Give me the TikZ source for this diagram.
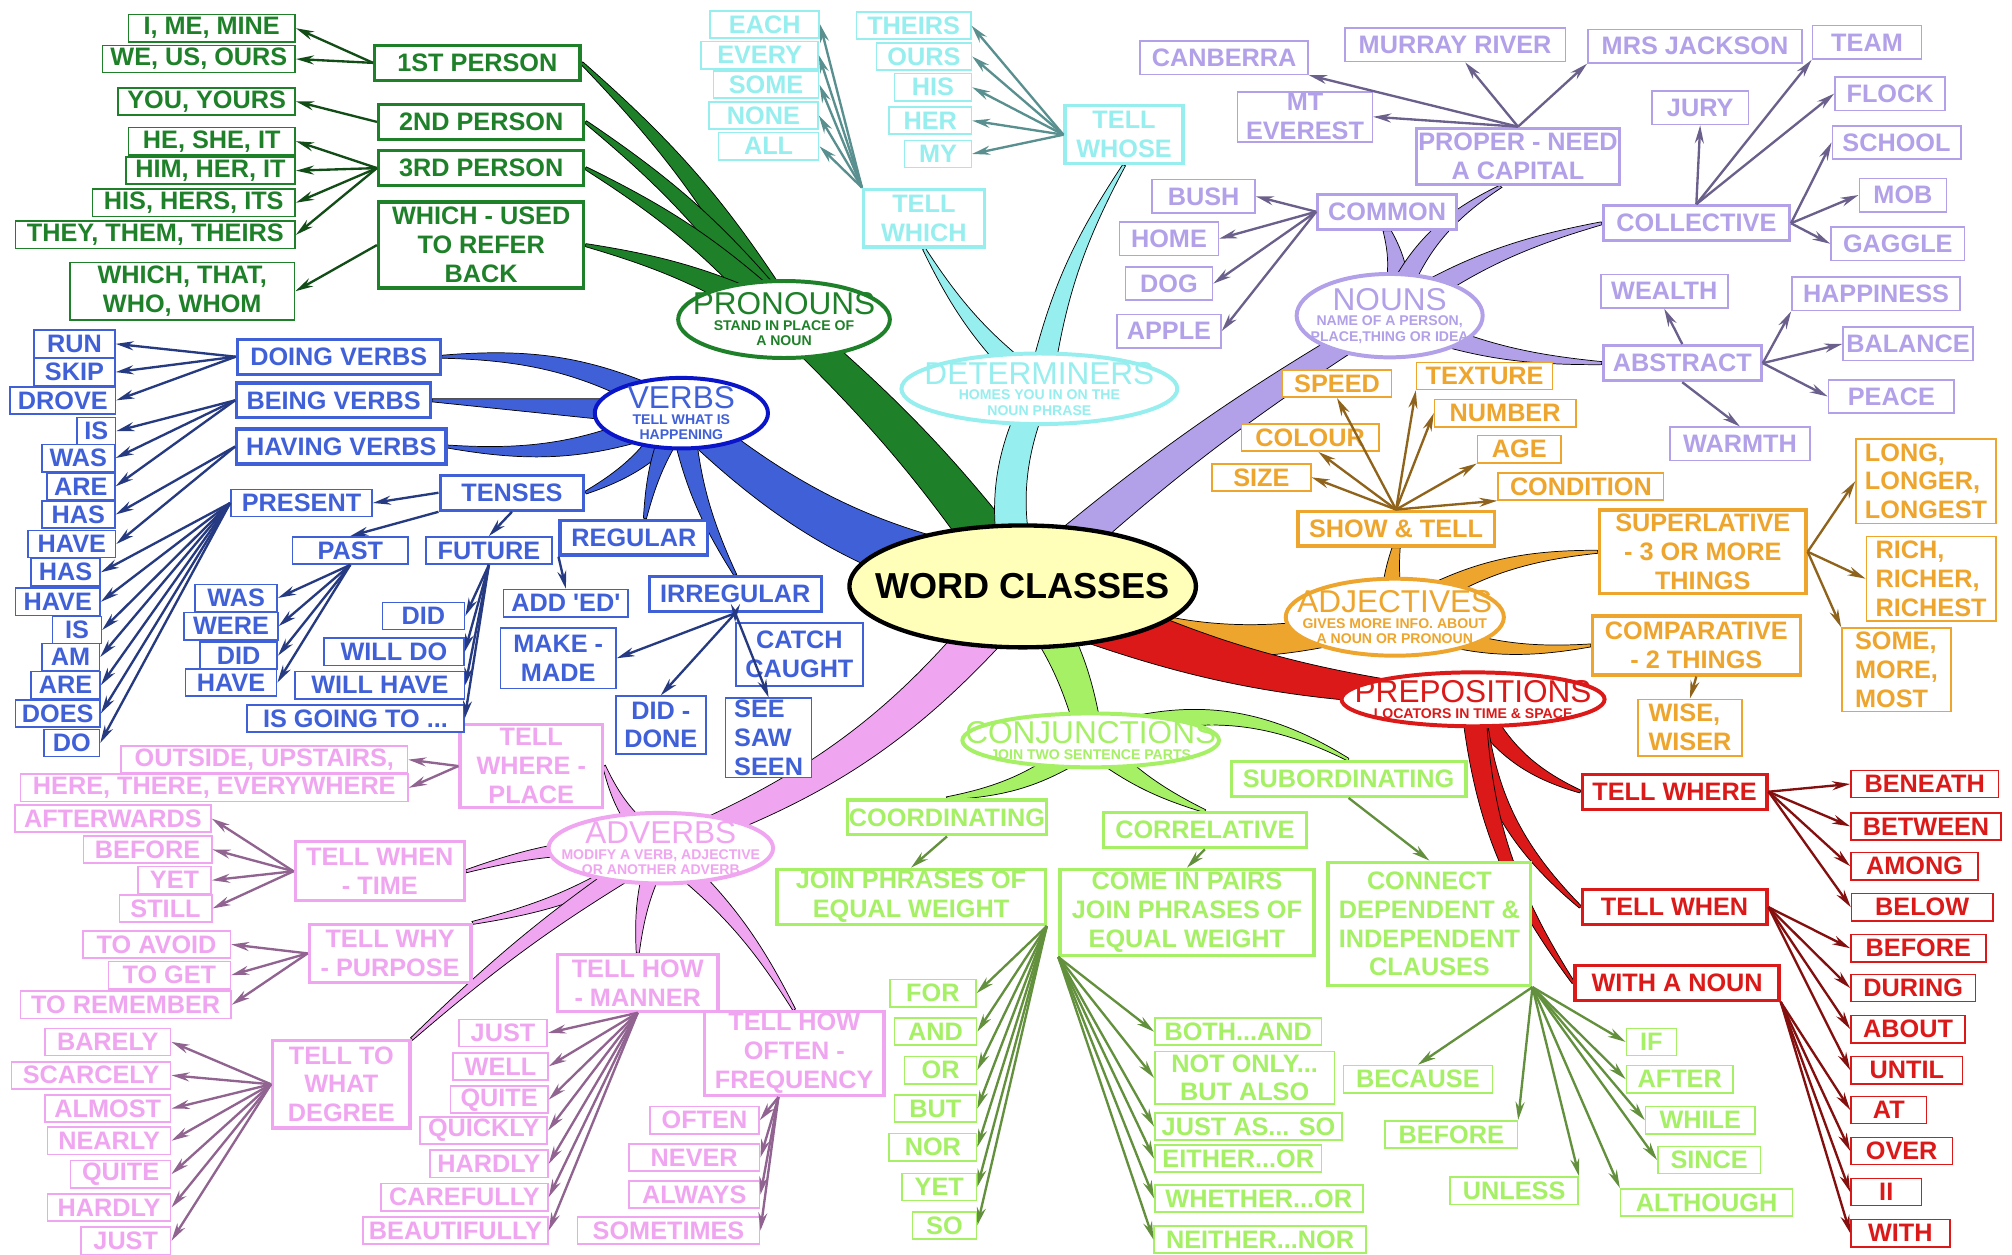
\documentclass[tikz,border=0pt]{standalone}
\usepackage{fontspec}
\setmainfont{Liberation Sans}
\usetikzlibrary{shapes.geometric,arrows.meta,calc,backgrounds}

\definecolor{pgr}{RGB}{30,128,40}
\definecolor{dcy}{RGB}{150,238,238}
\definecolor{nlv}{RGB}{178,160,232}
\definecolor{aor}{RGB}{238,165,45}
\definecolor{prd}{RGB}{220,25,25}
\definecolor{cgr}{RGB}{165,240,100}
\definecolor{avp}{RGB}{240,165,240}
\definecolor{vbl}{RGB}{64,96,216}
\definecolor{vdk}{RGB}{10,20,200}
\definecolor{hubfill}{RGB}{255,255,185}

% tapered limb: colour, from, to, half width at start, half width at end, bend
\newcommand{\twig}[6]{%
  \filldraw[fill=#1, draw=black, line width=0.4pt]
    ($(#2)!#4!90:(#3)$) to[bend left=#6] ($(#3)!#5!-90:(#2)$)
    -- ($(#3)!#5!90:(#2)$) to[bend right=#6] ($(#2)!#4!-90:(#3)$) -- cycle;}
\newcommand{\ttl}{\mdseries\fontsize{17.5}{17.5}\selectfont}

\begin{document}
\begin{tikzpicture}[x=0.025cm, y=-0.025cm,
    wd/.style={minimum width=#1*0.025cm},
    ht/.style={minimum height=#1*0.025cm},
    hub/.style={ellipse, draw=black, line width=2.4pt, fill=hubfill, inner sep=0pt},
    hubtxt/.style={font=\bfseries\fontsize{20}{20}\selectfont, inner sep=0pt},
    kind/.style={ellipse, draw=#1, line width=2.2pt, fill=white, inner sep=0pt},
    ktxt/.style={text=#1, align=center, inner sep=0pt, font=\bfseries\fontsize{7.8}{8.6}\selectfont},
    head/.style={draw=#1, text=#1, fill=white, line width=1.8pt, align=center, inner sep=1pt, minimum height=0.68cm, font=\bfseries\fontsize{14}{16}\selectfont},
    leaf/.style={draw=#1, text=#1, fill=white, line width=0.9pt, align=center, inner sep=1pt, minimum height=0.53cm, font=\bfseries\fontsize{14}{16}\selectfont},
    arr/.style={draw=#1!60!black, line width=1.3pt, -{Stealth[length=10pt, width=5pt, fill=#1]}}]
\useasboundingbox (0,0) rectangle (1568,978);

\node[hub, wd=270, ht=95, label={[hubtxt]center:WORD CLASSES}] (wc) at (797,457) {};

% pronouns
\node[kind=pgr, wd=165, ht=60, label={[ktxt=pgr]center:{{\ttl PRONOUNS}\\STAND IN PLACE OF\\A NOUN}}] (pron) at (611,249) {};
\node[head=pgr, wd=160] (p1) at (372,49) {1ST PERSON};
\node[head=pgr, wd=160] (p2) at (375,95) {2ND PERSON};
\node[head=pgr, wd=160] (p3) at (375,131) {3RD PERSON};
\node[head=pgr, wd=160, ht=67] (pwho) at (375,191) {WHICH - USED\\TO REFER\\BACK};
\node[leaf=pgr, wd=130] (ime) at (165,22) {I, ME, MINE};
\node[leaf=pgr, wd=150] (weus) at (155,46) {WE, US, OURS};
\node[leaf=pgr, wd=138] (you) at (161,79) {YOU, YOURS};
\node[leaf=pgr, wd=130] (heshe) at (165,110) {HE, SHE, IT};
\node[leaf=pgr, wd=132] (himher) at (164,133) {HIM, HER, IT};
\node[leaf=pgr, wd=158] (hishers) at (151,158) {HIS, HERS, ITS};
\node[leaf=pgr, wd=218] (they) at (121,183) {THEY, THEM, THEIRS};
\node[leaf=pgr, wd=175, ht=45] (whichthat) at (142,227) {WHICH, THAT,\\WHO, WHOM};

% determiners
\node[kind=dcy, wd=215, ht=55, label={[ktxt=dcy]center:{{\ttl DETERMINERS}\\HOMES YOU IN ON THE\\NOUN PHRASE}}] (det) at (810,303) {};
\node[head=dcy, wd=94, ht=45] (twhich) at (720,170) {TELL\\WHICH};
\node[head=dcy, wd=92, ht=45] (twhose) at (876,105) {TELL\\WHOSE};
\node[leaf=dcy, wd=85] (each) at (596,19) {EACH};
\node[leaf=dcy, wd=91] (every) at (592,43) {EVERY};
\node[leaf=dcy, wd=82] (dsome) at (597,66) {SOME};
\node[leaf=dcy, wd=85] (dnone) at (595,90) {NONE};
\node[leaf=dcy, wd=78] (dall) at (599,114) {ALL};
\node[leaf=dcy, wd=89] (theirs) at (712,20) {THEIRS};
\node[leaf=dcy, wd=74] (dours) at (720,44) {OURS};
\node[leaf=dcy, wd=60] (dhis) at (727,68) {HIS};
\node[leaf=dcy, wd=64] (dher) at (725,94) {HER};
\node[leaf=dcy, wd=52] (dmy) at (731,120) {MY};

% nouns
\node[kind=nlv, wd=145, ht=65, label={[ktxt=nlv]center:{{\ttl NOUNS}\\NAME OF A PERSON,\\PLACE,THING OR IDEA}}] (nouns) at (1083,246) {};
\node[head=nlv, wd=108] (common) at (1081,165) {COMMON};
\node[head=nlv, wd=143, ht=44] (proper) at (1183,122) {PROPER - NEED\\A CAPITAL};
\node[head=nlv, wd=145] (coll) at (1322,174) {COLLECTIVE};
\node[head=nlv, wd=123] (abstract) at (1311,283) {ABSTRACT};
\node[leaf=nlv, wd=80, ht=26] (bush) at (938,153) {BUSH};
\node[leaf=nlv, wd=77, ht=26] (home) at (911,186) {HOME};
\node[leaf=nlv, wd=68, ht=26] (dog) at (911,221) {DOG};
\node[leaf=nlv, wd=81, ht=26] (apple) at (911,258) {APPLE};
\node[leaf=nlv, wd=131, ht=26] (canberra) at (954,45) {CANBERRA};
\node[leaf=nlv, wd=105, ht=37] (everest) at (1017,91) {MT\\EVEREST};
\node[leaf=nlv, wd=172, ht=26] (murray) at (1134,35) {MURRAY RIVER};
\node[leaf=nlv, wd=167, ht=26] (jackson) at (1321,36) {MRS JACKSON};
\node[leaf=nlv, wd=85, ht=26] (team) at (1455,33) {TEAM};
\node[leaf=nlv, wd=86, ht=26] (flock) at (1473,73) {FLOCK};
\node[leaf=nlv, wd=75, ht=26] (jury) at (1325,84) {JURY};
\node[leaf=nlv, wd=100, ht=26] (school) at (1478,111) {SCHOOL};
\node[leaf=nlv, wd=68, ht=26] (mob) at (1483,152) {MOB};
\node[leaf=nlv, wd=104, ht=26] (gaggle) at (1479,190) {GAGGLE};
\node[leaf=nlv, wd=99, ht=26] (wealth) at (1297,227) {WEALTH};
\node[leaf=nlv, wd=131, ht=26] (happiness) at (1462,229) {HAPPINESS};
\node[leaf=nlv, wd=101, ht=26] (balance) at (1487,268) {BALANCE};
\node[leaf=nlv, wd=98, ht=26] (peace) at (1474,309) {PEACE};
\node[leaf=nlv, wd=109, ht=26] (warmth) at (1356,346) {WARMTH};

% adjectives
\node[kind=aor, wd=170, ht=60, label={[ktxt=aor]center:{{\ttl ADJECTIVES}\\GIVES MORE INFO. ABOUT\\A NOUN OR PRONOUN}}] (adj) at (1087,481) {};
\node[head=aor, wd=153] (show) at (1088,412) {SHOW \& TELL};
\node[head=aor, wd=161, ht=65] (super) at (1327,430) {SUPERLATIVE\\- 3 OR MORE\\THINGS};
\node[head=aor, wd=162, ht=46] (comp) at (1322,503) {COMPARATIVE\\- 2 THINGS};
\node[leaf=aor, wd=85] (speed) at (1042,299) {SPEED};
\node[leaf=aor, wd=106] (texture) at (1157,293) {TEXTURE};
\node[leaf=aor, wd=110] (number) at (1173,322) {NUMBER};
\node[leaf=aor, wd=107] (colour) at (1021,341) {COLOUR};
\node[leaf=aor, wd=65] (age) at (1184,350) {AGE};
\node[leaf=aor, wd=77] (size) at (983,372) {SIZE};
\node[leaf=aor, wd=129] (condition) at (1232,379) {CONDITION};
\node[leaf=aor, wd=109, ht=66, align=left] (long) at (1501,375) {LONG,\\LONGER,\\LONGEST};
\node[leaf=aor, wd=101, ht=66, align=left] (rich) at (1505,451) {RICH,\\RICHER,\\RICHEST};
\node[leaf=aor, wd=85, ht=65, align=left] (most) at (1478,522) {SOME,\\MORE,\\MOST};
\node[leaf=aor, wd=81, ht=44, align=left] (wise) at (1317,567) {WISE,\\WISER};

% prepositions
\node[kind=prd, wd=205, ht=42, label={[ktxt=prd]center:{{\ttl PREPOSITIONS}\\LOCATORS IN TIME \& SPACE}}] (prep) at (1148,545) {};
\node[head=prd, wd=144] (pwhere) at (1305,617) {TELL WHERE};
\node[head=prd, wd=144] (pwhen) at (1305,707) {TELL WHEN};
\node[head=prd, wd=159] (pnoun) at (1307,766) {WITH A NOUN};
\node[leaf=prd, wd=115] (pbeneath) at (1500,611) {BENEATH};
\node[leaf=prd, wd=117] (pbetween) at (1501,644) {BETWEEN};
\node[leaf=prd, wd=99] (pamong) at (1492,675) {AMONG};
\node[leaf=prd, wd=110] (pbelow) at (1498,707) {BELOW};
\node[leaf=prd, wd=105] (pbefore) at (1495,739) {BEFORE};
\node[leaf=prd, wd=97] (pduring) at (1491,770) {DURING};
\node[leaf=prd, wd=89] (pabout) at (1487,802) {ABOUT};
\node[leaf=prd, wd=87] (puntil) at (1486,834) {UNTIL};
\node[leaf=prd, wd=59] (pat) at (1472,865) {AT};
\node[leaf=prd, wd=79] (pover) at (1482,897) {OVER};
\node[leaf=prd, wd=55] (pii) at (1470,929) {II};
\node[leaf=prd, wd=77] (pwith) at (1481,961) {WITH};

% conjunctions
\node[kind=cgr, wd=200, ht=42, label={[ktxt=cgr]center:{{\ttl CONJUNCTIONS}\\JOIN TWO SENTENCE PARTS}}] (conj) at (850,577) {};
\node[head=cgr, wd=147] (coord) at (738,637) {COORDINATING};
\node[head=cgr, wd=158] (corr) at (939,647) {CORRELATIVE};
\node[head=cgr, wd=183] (sub) at (1051,607) {SUBORDINATING};
\node[head=cgr, wd=209, ht=43] (joineq) at (710,699) {JOIN PHRASES OF\\EQUAL WEIGHT};
\node[head=cgr, wd=198, ht=67] (pairs) at (925,711) {COME IN PAIRS\\JOIN PHRASES OF\\EQUAL WEIGHT};
\node[head=cgr, wd=158, ht=96] (connect) at (1114,720) {CONNECT\\DEPENDENT \&\\INDEPENDENT\\CLAUSES};
\node[leaf=cgr, wd=67] (cfor) at (727,774) {FOR};
\node[leaf=cgr, wd=64] (cand) at (729,804) {AND};
\node[leaf=cgr, wd=56] (cor) at (733,834) {OR};
\node[leaf=cgr, wd=64] (cbut) at (729,864) {BUT};
\node[leaf=cgr, wd=68] (cnor) at (727,894) {NOR};
\node[leaf=cgr, wd=58] (cyet) at (732,925) {YET};
\node[leaf=cgr, wd=50] (cso) at (736,955) {SO};
\node[leaf=cgr, wd=130] (both) at (965,804) {BOTH...AND};
\node[leaf=cgr, wd=140, ht=41] (notonly) at (970,840) {NOT ONLY...\\BUT ALSO};
\node[leaf=cgr, wd=146] (justas) at (973,878) {JUST AS... SO};
\node[leaf=cgr, wd=130] (either) at (965,903) {EITHER...OR};
\node[leaf=cgr, wd=162] (whether) at (981,934) {WHETHER...OR};
\node[leaf=cgr, wd=165] (neither) at (982,966) {NEITHER...NOR};
\node[leaf=cgr, wd=116] (because) at (1105,841) {BECAUSE};
\node[leaf=cgr, wd=103] (cbefore) at (1131,884) {BEFORE};
\node[leaf=cgr, wd=100] (unless) at (1180,928) {UNLESS};
\node[leaf=cgr, wd=39] (cif) at (1287,812) {IF};
\node[leaf=cgr, wd=83] (after) at (1309,841) {AFTER};
\node[leaf=cgr, wd=85] (cwhile) at (1325,873) {WHILE};
\node[leaf=cgr, wd=80] (since) at (1332,904) {SINCE};
\node[leaf=cgr, wd=134] (although) at (1330,937) {ALTHOUGH};

% adverbs
\node[kind=avp, wd=175, ht=55, label={[ktxt=avp]center:{{\ttl ADVERBS}\\MODIFY A VERB, ADJECTIVE\\OR ANOTHER ADVERB}}] (adv) at (515,661) {};
\node[head=avp, wd=111, ht=65] (awhere) at (414,597) {TELL\\WHERE -\\PLACE};
\node[head=avp, wd=132, ht=46] (awhen) at (296,679) {TELL WHEN\\- TIME};
\node[head=avp, wd=126, ht=45] (awhy) at (304,743) {TELL WHY\\- PURPOSE};
\node[head=avp, wd=125, ht=44] (amanner) at (497,766) {TELL HOW\\- MANNER};
\node[head=avp, wd=140, ht=64] (aoften) at (619,821) {TELL HOW\\OFTEN -\\FREQUENCY};
\node[head=avp, wd=107, ht=68] (adegree) at (266,845) {TELL TO\\WHAT\\DEGREE};
\node[leaf=avp, wd=223] (outside) at (206,592) {OUTSIDE, UPSTAIRS,};
\node[leaf=avp, wd=302] (here) at (167,614) {HERE, THERE, EVERYWHERE};
\node[leaf=avp, wd=153] (afterwards) at (88,638) {AFTERWARDS};
\node[leaf=avp, wd=100] (abefore) at (115,662) {BEFORE};
\node[leaf=avp, wd=57] (ayet) at (136,686) {YET};
\node[leaf=avp, wd=72] (still) at (129,708) {STILL};
\node[leaf=avp, wd=115] (avoid) at (122,736) {TO AVOID};
\node[leaf=avp, wd=95] (toget) at (132,760) {TO GET};
\node[leaf=avp, wd=164] (remember) at (98,783) {TO REMEMBER};
\node[leaf=avp, wd=98] (barely) at (84,812) {BARELY};
\node[leaf=avp, wd=124] (scarcely) at (71,838) {SCARCELY};
\node[leaf=avp, wd=98] (almost) at (84,864) {ALMOST};
\node[leaf=avp, wd=96] (nearly) at (85,889) {NEARLY};
\node[leaf=avp, wd=78] (aquite) at (94,915) {QUITE};
\node[leaf=avp, wd=96] (ahardly) at (85,941) {HARDLY};
\node[leaf=avp, wd=70] (ajust) at (98,967) {JUST};
\node[leaf=avp, wd=69] (mjust) at (392,805) {JUST};
\node[leaf=avp, wd=74] (mwell) at (390,831) {WELL};
\node[leaf=avp, wd=76] (mquite) at (389,857) {QUITE};
\node[leaf=avp, wd=99] (quickly) at (377,881) {QUICKLY};
\node[leaf=avp, wd=92] (mhardly) at (381,907) {HARDLY};
\node[leaf=avp, wd=130] (carefully) at (362,933) {CAREFULLY};
\node[leaf=avp, wd=144] (beautifully) at (355,959) {BEAUTIFULLY};
\node[leaf=avp, wd=85] (often) at (549,873) {OFTEN};
\node[leaf=avp, wd=102] (never) at (541,902) {NEVER};
\node[leaf=avp, wd=102] (always) at (541,931) {ALWAYS};
\node[leaf=avp, wd=142] (sometimes) at (521,959) {SOMETIMES};

% verbs
\node[kind=vdk, wd=135, ht=55, label={[ktxt=vbl]center:{{\ttl VERBS}\\TELL WHAT IS\\HAPPENING}}] (verbs) at (531,322) {};
\node[head=vbl, wd=158] (doing) at (264,278) {DOING VERBS};
\node[head=vbl, wd=151] (being) at (260,312) {BEING VERBS};
\node[head=vbl, wd=163] (having) at (266,348) {HAVING VERBS};
\node[head=vbl, wd=112] (tenses) at (399,384) {TENSES};
\node[head=vbl, wd=115] (regular) at (494,419) {REGULAR};
\node[head=vbl, wd=134] (irregular) at (573,463) {IRREGULAR};
\node[leaf=vbl, wd=63] (run) at (58,268) {RUN};
\node[leaf=vbl, wd=63] (skip) at (58,290) {SKIP};
\node[leaf=vbl, wd=82] (drove) at (49,312) {DROVE};
\node[leaf=vbl, wd=30] (vis) at (75,336) {IS};
\node[leaf=vbl, wd=57] (vwas) at (61,357) {WAS};
\node[leaf=vbl, wd=53] (vare) at (63,379) {ARE};
\node[leaf=vbl, wd=57] (vhas) at (61,401) {HAS};
\node[leaf=vbl, wd=68] (vhave) at (56,424) {HAVE};
\node[leaf=vbl, wd=54] (vhas2) at (51,446) {HAS};
\node[leaf=vbl, wd=66] (vhave2) at (45,469) {HAVE};
\node[leaf=vbl, wd=38] (vis2) at (60,491) {IS};
\node[leaf=vbl, wd=45] (vam) at (55,512) {AM};
\node[leaf=vbl, wd=54] (vare2) at (51,534) {ARE};
\node[leaf=vbl, wd=66] (vdoes) at (45,556) {DOES};
\node[leaf=vbl, wd=43] (vdo) at (56,579) {DO};
\node[leaf=vbl, wd=110] (present) at (235,392) {PRESENT};
\node[leaf=vbl, wd=90] (past) at (273,429) {PAST};
\node[leaf=vbl, wd=98] (future) at (381,429) {FUTURE};
\node[leaf=vbl, wd=64] (pswas) at (184,466) {WAS};
\node[leaf=vbl, wd=73] (pswere) at (180,488) {WERE};
\node[leaf=vbl, wd=60] (psdid) at (186,511) {DID};
\node[leaf=vbl, wd=71] (pshave) at (180,532) {HAVE};
\node[leaf=vbl, wd=64] (fdid) at (330,480) {DID};
\node[leaf=vbl, wd=109] (fwilldo) at (307,508) {WILL DO};
\node[leaf=vbl, wd=132] (fwillhave) at (296,534) {WILL HAVE};
\node[leaf=vbl, wd=169] (fgoing) at (277,560) {IS GOING TO ...};
\node[leaf=vbl, wd=97] (added) at (441,470) {ADD \textquotesingle ED\textquotesingle};
\node[leaf=vbl, wd=90, ht=47] (make) at (435,513) {MAKE -\\MADE};
\node[leaf=vbl, wd=99, ht=49] (catch) at (623,510) {CATCH\\CAUGHT};
\node[leaf=vbl, wd=70, ht=45] (done) at (515,565) {DID -\\DONE};
\node[leaf=vbl, wd=67, ht=61, align=left] (seen) at (599,575) {SEE\\SAW\\SEEN};

% limbs
\begin{scope}[on background layer]
\twig{pgr}{wc.center}{pron.center}{0.5cm}{0.28cm}{-6}
\twig{dcy}{wc.center}{det.center}{0.35cm}{0.25cm}{20}
\twig{nlv}{wc.center}{nouns.center}{0.38cm}{0.2cm}{5}
\twig{aor}{wc.center}{adj.center}{0.4cm}{0.25cm}{-20}
\twig{prd}{wc.center}{prep.center}{0.6cm}{0.15cm}{-10}
\twig{cgr}{wc.center}{conj.center}{0.4cm}{0.25cm}{12}
\twig{avp}{wc.center}{adv.center}{0.45cm}{0.2cm}{15}
\twig{vbl}{wc.center}{verbs.center}{0.6cm}{0.3cm}{15}
\twig{pgr}{pron.center}{p1.east}{0.3cm}{0.03cm}{-8}
\twig{pgr}{pron.center}{p2.east}{0.3cm}{0.03cm}{-8}
\twig{pgr}{pron.center}{p3.east}{0.3cm}{0.03cm}{-8}
\twig{pgr}{pron.center}{pwho.east}{0.3cm}{0.03cm}{-8}
\twig{dcy}{det.center}{twhich.south}{0.25cm}{0.03cm}{10}
\twig{dcy}{det.center}{twhose.south}{0.25cm}{0.03cm}{10}
\twig{nlv}{nouns.center}{common.south}{0.3cm}{0.08cm}{-20}
\twig{nlv}{nouns.center}{proper.-120}{0.25cm}{0.03cm}{20}
\twig{nlv}{nouns.center}{coll.west}{0.25cm}{0.03cm}{10}
\twig{nlv}{nouns.center}{abstract.west}{0.25cm}{0.03cm}{-10}
\twig{aor}{adj.center}{show.south}{0.25cm}{0.08cm}{10}
\twig{aor}{adj.center}{super.west}{0.25cm}{0.03cm}{15}
\twig{aor}{adj.center}{comp.west}{0.25cm}{0.03cm}{-15}
\twig{prd}{prep.center}{pwhere.west}{0.25cm}{0.03cm}{-20}
\twig{prd}{prep.center}{pwhen.west}{0.25cm}{0.03cm}{-20}
\twig{prd}{prep.center}{pnoun.west}{0.25cm}{0.03cm}{-15}
\twig{cgr}{conj.center}{coord.north}{0.25cm}{0.03cm}{15}
\twig{cgr}{conj.center}{corr.north}{0.25cm}{0.03cm}{-10}
\twig{cgr}{conj.center}{sub.north}{0.25cm}{0.03cm}{25}
\twig{avp}{adv.center}{awhere.east}{0.22cm}{0.03cm}{15}
\twig{avp}{adv.center}{awhen.east}{0.22cm}{0.03cm}{-10}
\twig{avp}{adv.center}{awhy.north east}{0.22cm}{0.03cm}{10}
\twig{avp}{adv.center}{amanner.north}{0.22cm}{0.03cm}{-10}
\twig{avp}{adv.center}{aoften.north}{0.22cm}{0.03cm}{10}
\twig{avp}{adv.center}{adegree.north east}{0.22cm}{0.03cm}{-5}
\twig{vbl}{verbs.center}{doing.east}{0.28cm}{0.03cm}{-15}
\twig{vbl}{verbs.center}{being.east}{0.28cm}{0.03cm}{0}
\twig{vbl}{verbs.center}{having.east}{0.28cm}{0.03cm}{15}
\twig{vbl}{verbs.center}{tenses.east}{0.28cm}{0.03cm}{15}
\twig{vbl}{verbs.center}{regular.60}{0.25cm}{0.03cm}{-10}
\twig{vbl}{verbs.center}{irregular.north}{0.25cm}{0.03cm}{-10}
\end{scope}

% pronoun arrows
\draw[arr=pgr] (p1.west) -- (ime.east);
\draw[arr=pgr] (p1.west) -- (weus.east);
\draw[arr=pgr] (p2.west) -- (you.east);
\draw[arr=pgr] (p3.west) -- (heshe.east);
\draw[arr=pgr] (p3.west) -- (himher.east);
\draw[arr=pgr] (p3.west) -- (hishers.east);
\draw[arr=pgr] (p3.west) -- (they.east);
\draw[arr=pgr] (pwho.west) -- (whichthat.east);

% determiner arrows
\draw[arr=dcy] (twhich.north west) -- (each.east);
\draw[arr=dcy] (twhich.north west) -- (every.east);
\draw[arr=dcy] (twhich.north west) -- (dsome.east);
\draw[arr=dcy] (twhich.north west) -- (dnone.east);
\draw[arr=dcy] (twhich.north west) -- (dall.east);
\draw[arr=dcy] (twhose.west) -- (theirs.east);
\draw[arr=dcy] (twhose.west) -- (dours.east);
\draw[arr=dcy] (twhose.west) -- (dhis.east);
\draw[arr=dcy] (twhose.west) -- (dher.east);
\draw[arr=dcy] (twhose.west) -- (dmy.east);

% noun arrows
\draw[arr=nlv] (common.west) -- (bush.east);
\draw[arr=nlv] (common.west) -- (home.east);
\draw[arr=nlv] (common.west) -- (dog.east);
\draw[arr=nlv] (common.west) -- (apple.east);
\draw[arr=nlv] (proper.north) -- (canberra.south east);
\draw[arr=nlv] (proper.north) -- (everest.east);
\draw[arr=nlv] (proper.north) -- (murray.-60);
\draw[arr=nlv] (proper.north) -- (jackson.south west);
\draw[arr=nlv] (coll.north) -- (jury.south);
\draw[arr=nlv] (coll.north) -- (team.south west);
\draw[arr=nlv] (coll.north) -- (flock.west);
\draw[arr=nlv] (coll.east) -- (school.west);
\draw[arr=nlv] (coll.east) -- (mob.west);
\draw[arr=nlv] (coll.east) -- (gaggle.west);
\draw[arr=nlv] (abstract.north) -- (wealth.south);
\draw[arr=nlv] (abstract.east) -- (happiness.south west);
\draw[arr=nlv] (abstract.east) -- (balance.west);
\draw[arr=nlv] (abstract.east) -- (peace.west);
\draw[arr=nlv] (abstract.south) -- (warmth.north);

% adjective arrows
\draw[arr=aor] (show.north) -- (speed.south);
\draw[arr=aor] (show.north) -- (texture.south west);
\draw[arr=aor] (show.north) -- (number.west);
\draw[arr=aor] (show.north) -- (colour.-60);
\draw[arr=aor] (show.north) -- (age.south west);
\draw[arr=aor] (show.north) -- (size.east);
\draw[arr=aor] (show.north) -- (condition.south west);
\draw[arr=aor] (super.east) -- (long.west);
\draw[arr=aor] (super.east) -- (rich.west);
\draw[arr=aor] (super.east) -- (most.north west);
\draw[arr=aor] (comp.south) -- (wise.north);

% preposition arrows
\draw[arr=prd] (pwhere.east) -- (pbeneath.west);
\draw[arr=prd] (pwhere.east) -- (pbetween.west);
\draw[arr=prd] (pwhere.east) -- (pamong.west);
\draw[arr=prd] (pwhere.east) -- (pbelow.west);
\draw[arr=prd] (pwhen.east) -- (pbefore.west);
\draw[arr=prd] (pwhen.east) -- (pduring.west);
\draw[arr=prd] (pwhen.east) -- (pabout.west);
\draw[arr=prd] (pwhen.east) -- (puntil.west);
\draw[arr=prd] (pnoun.south east) -- (pat.west);
\draw[arr=prd] (pnoun.south east) -- (pover.west);
\draw[arr=prd] (pnoun.south east) -- (pii.west);
\draw[arr=prd] (pnoun.south east) -- (pwith.west);

% conjunction arrows
\draw[arr=cgr] (coord.south) -- (joineq.north);
\draw[arr=cgr] (corr.south) -- (pairs.north);
\draw[arr=cgr] (sub.south) -- (connect.north);
\draw[arr=cgr] (joineq.south east) -- (cfor.east);
\draw[arr=cgr] (joineq.south east) -- (cand.east);
\draw[arr=cgr] (joineq.south east) -- (cor.east);
\draw[arr=cgr] (joineq.south east) -- (cbut.east);
\draw[arr=cgr] (joineq.south east) -- (cnor.east);
\draw[arr=cgr] (joineq.south east) -- (cyet.east);
\draw[arr=cgr] (joineq.south east) -- (cso.east);
\draw[arr=cgr] (pairs.south west) -- (both.west);
\draw[arr=cgr] (pairs.south west) -- (notonly.west);
\draw[arr=cgr] (pairs.south west) -- (justas.west);
\draw[arr=cgr] (pairs.south west) -- (either.west);
\draw[arr=cgr] (pairs.south west) -- (whether.west);
\draw[arr=cgr] (pairs.south west) -- (neither.west);
\draw[arr=cgr] (connect.south east) -- (because.north);
\draw[arr=cgr] (connect.south east) -- (cbefore.north east);
\draw[arr=cgr] (connect.south east) -- (unless.north east);
\draw[arr=cgr] (connect.south east) -- (cif.west);
\draw[arr=cgr] (connect.south east) -- (after.west);
\draw[arr=cgr] (connect.south east) -- (cwhile.west);
\draw[arr=cgr] (connect.south east) -- (since.west);
\draw[arr=cgr] (connect.south east) -- (although.north west);

% adverb arrows
\draw[arr=avp] (awhere.west) -- (outside.east);
\draw[arr=avp] (awhere.west) -- (here.east);
\draw[arr=avp] (awhen.west) -- (afterwards.east);
\draw[arr=avp] (awhen.west) -- (abefore.east);
\draw[arr=avp] (awhen.west) -- (ayet.east);
\draw[arr=avp] (awhen.west) -- (still.east);
\draw[arr=avp] (awhy.west) -- (avoid.east);
\draw[arr=avp] (awhy.west) -- (toget.east);
\draw[arr=avp] (awhy.west) -- (remember.east);
\draw[arr=avp] (adegree.west) -- (barely.east);
\draw[arr=avp] (adegree.west) -- (scarcely.east);
\draw[arr=avp] (adegree.west) -- (almost.east);
\draw[arr=avp] (adegree.west) -- (nearly.east);
\draw[arr=avp] (adegree.west) -- (aquite.east);
\draw[arr=avp] (adegree.west) -- (ahardly.east);
\draw[arr=avp] (adegree.west) -- (ajust.east);
\draw[arr=avp] (amanner.south) -- (mjust.east);
\draw[arr=avp] (amanner.south) -- (mwell.east);
\draw[arr=avp] (amanner.south) -- (mquite.east);
\draw[arr=avp] (amanner.south) -- (quickly.east);
\draw[arr=avp] (amanner.south) -- (mhardly.east);
\draw[arr=avp] (amanner.south) -- (carefully.east);
\draw[arr=avp] (amanner.south) -- (beautifully.east);
\draw[arr=avp] (aoften.-110) -- (often.east);
\draw[arr=avp] (aoften.-110) -- (never.east);
\draw[arr=avp] (aoften.-110) -- (always.east);
\draw[arr=avp] (aoften.-110) -- (sometimes.east);

% verb arrows
\draw[arr=vbl] (doing.west) -- (run.east);
\draw[arr=vbl] (doing.west) -- (skip.east);
\draw[arr=vbl] (doing.west) -- (drove.east);
\draw[arr=vbl] (being.west) -- (vis.east);
\draw[arr=vbl] (being.west) -- (vwas.east);
\draw[arr=vbl] (being.west) -- (vare.east);
\draw[arr=vbl] (having.west) -- (vhas.east);
\draw[arr=vbl] (having.west) -- (vhave.east);
\draw[arr=vbl] (present.west) -- (vhas2.east);
\draw[arr=vbl] (present.west) -- (vhave2.east);
\draw[arr=vbl] (present.west) -- (vis2.east);
\draw[arr=vbl] (present.west) -- (vam.east);
\draw[arr=vbl] (present.west) -- (vare2.east);
\draw[arr=vbl] (present.west) -- (vdoes.east);
\draw[arr=vbl] (present.west) -- (vdo.east);
\draw[arr=vbl] (tenses.west) -- (present.east);
\draw[arr=vbl] (tenses.south west) -- (past.north);
\draw[arr=vbl] (tenses.south) -- (future.north);
\draw[arr=vbl] (past.south) -- (pswas.east);
\draw[arr=vbl] (past.south) -- (pswere.east);
\draw[arr=vbl] (past.south) -- (psdid.east);
\draw[arr=vbl] (past.south) -- (pshave.east);
\draw[arr=vbl] (future.south) -- (fdid.east);
\draw[arr=vbl] (future.south) -- (fwilldo.east);
\draw[arr=vbl] (future.south) -- (fwillhave.east);
\draw[arr=vbl] (future.south) -- (fgoing.east);
\draw[arr=vbl] (regular.south west) -- (added.north);
\draw[arr=vbl] (irregular.south) -- (make.east);
\draw[arr=vbl] (irregular.south) -- (done.north);
\draw[arr=vbl] (irregular.south) -- (seen.north);
\draw[arr=vbl] (irregular.south) -- (catch.north west);
\end{tikzpicture}
\end{document}
